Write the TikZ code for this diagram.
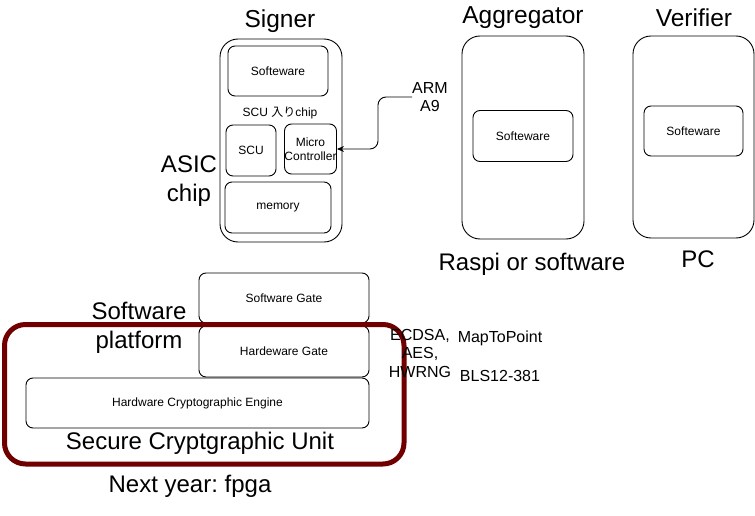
\documentclass[tikz,border=0pt]{standalone}
\usepackage{fontspec}
\setmainfont{Liberation Sans}
\newfontfamily\cjk{Noto Sans CJK JP}
\usetikzlibrary{arrows.meta}
\definecolor{scured}{RGB}{112,0,0}
\frenchspacing
\tikzset{
  box/.style={draw, line width=0.9pt, rounded corners=7pt, inner sep=0pt, align=center, font=\fontsize{12}{14}\selectfont},
  outerbox/.style={draw, line width=0.9pt, rounded corners=18pt, inner sep=0pt},
  title/.style={font=\fontsize{24.5}{29}\selectfont, align=center, inner sep=0pt},
  biglabel/.style={font=\fontsize{24}{29.5}\selectfont, align=center, inner sep=0pt},
  midlabel/.style={font=\fontsize{16}{18.5}\selectfont, align=center, inner sep=0pt},
  smalllabel/.style={font=\fontsize{12}{14}\selectfont, align=center, inner sep=0pt},
}
\begin{document}
\begin{tikzpicture}[x=1pt,y=-1pt]
\useasboundingbox (0,0) rectangle (755,516);
% Signer
\node[outerbox, minimum width=122pt, minimum height=203pt] (signer) at (281,140.5) {};
\node[title] (signertitle) at (280,21) {Signer};
\node[box, minimum width=100pt, minimum height=50pt] (sw1) at (278,71) {Softeware};
\node[smalllabel] (scuchip) at (280,113) {SCU {\cjk 入り}chip};
\node[box, minimum width=50pt, minimum height=51pt] (scu) at (251,150.5) {SCU};
\node[box, minimum width=51pt, minimum height=50pt] (mc) at (310.5,149) {Micro\\Controller};
\node[box, minimum width=106pt, minimum height=51pt] (mem) at (278,207.5) {memory};
\node[biglabel] (asic) at (189,181) {ASIC\\chip};
\node[midlabel] (arm) at (430,97) {ARM\\A9};
\coordinate (bend) at (378,97);
\draw[line width=0.9pt, rounded corners=8pt, -{Stealth[length=7pt,width=6pt]}] (arm.west) -- (bend) |- (mc.east);
% Aggregator
\node[outerbox, minimum width=122pt, minimum height=203pt] (agg) at (523,137.5) {};
\node[title] (aggtitle) at (523,18) {Aggregator};
\node[box, minimum width=100pt, minimum height=51pt] (sw2) at (523,136) {Softeware};
\node[biglabel] (raspi) at (532,264) {Raspi or software};
% Verifier
\node[outerbox, minimum width=121pt, minimum height=202pt] (ver) at (693.5,137) {};
\node[title] (vertitle) at (694,18) {Verifier};
\node[box, minimum width=99pt, minimum height=50pt] (sw3) at (693.5,131) {Softeware};
\node[biglabel] (pc) at (698,259) {PC};
% Lower stack
\node[box, minimum width=170pt, minimum height=50pt] (swgate) at (284,298) {Software Gate};
\node[box, minimum width=170pt, minimum height=51pt] (hwgate) at (284,351.5) {Hardeware Gate};
\node[box, minimum width=343pt, minimum height=50pt] (hce) at (197.5,403) {Hardware Cryptographic Engine};
\draw[scured, line width=5pt, rounded corners=21pt] (4.5,324.5) rectangle (404,464);
\node[biglabel] (swplat) at (139,328) {Software\\platform};
\node[biglabel] (scu2) at (200,443) {Secure Cryptgraphic Unit};
\node[biglabel] (next) at (190,486) {Next year: fpga};
\node[midlabel] (algs) at (420,353) {ECDSA,\\AES,\\HWRNG};
\node[midlabel] (map) at (500,338) {MapToPoint};
\node[midlabel] (bls) at (500,376) {BLS12-381};
\end{tikzpicture}
\end{document}
